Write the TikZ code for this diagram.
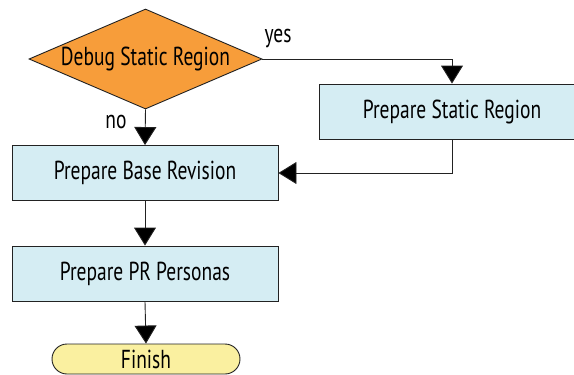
\documentclass[tikz,border=0pt]{standalone}
\usepackage{fontspec}
\setmainfont[FakeStretch=0.75]{PT Sans}
\usetikzlibrary{arrows.meta,positioning,shapes.geometric,shapes.misc}
\definecolor{FlowOrange}{HTML}{F79D3A}
\definecolor{FlowBlue}{HTML}{D5EDF3}
\definecolor{FlowYellow}{HTML}{FAF0A0}
\definecolor{FlowLine}{HTML}{222222}
\tikzset{
  stage/.style={
    draw=FlowLine,
    fill=FlowBlue,
    line width=.9pt,
    minimum width=266pt,
    minimum height=55pt,
    inner sep=0pt,
    font=\fontsize{26}{29}\selectfont
  },
  decision/.style={
    diamond,
    aspect=2.33,
    draw=FlowLine,
    fill=FlowOrange,
    line width=.9pt,
    minimum width=233pt,
    minimum height=100pt,
    inner sep=0pt,
    font=\fontsize{26}{29}\selectfont
  },
  terminal/.style={
    rounded rectangle,
    draw=FlowLine,
    fill=FlowYellow,
    line width=.9pt,
    minimum width=188pt,
    minimum height=30pt,
    inner sep=0pt,
    font=\fontsize{26}{29}\selectfont
  },
  arrow/.style={-{Triangle[length=18pt,width=22pt,fill=black]},draw=FlowLine,line width=.9pt},
  branch/.style={font=\fontsize{26}{29}\selectfont,inner sep=1pt}
}

\begin{document}
\begin{tikzpicture}[x=1pt,y=-1pt]
  \useasboundingbox (0,0) rectangle (574,375);
  \clip (0,0) rectangle (574,375);

  % Flow stages.
  \node[decision] (debug) at (145.5,59) {Debug Static Region};
  \node[stage] (static) at (452,111.5) {Prepare Static Region};
  \node[stage] (base) at (145,173) {Prepare Base Revision};
  \node[stage] (personas) at (145,273.5) {Prepare PR Personas};
  \node[terminal] (finish) at (146,359) {Finish};

  % Connectors.
  \draw[arrow] (debug.east) -| (static.north);
  \node[branch] (yes) at (278,39) {yes};
  \draw[arrow] (debug.south) -- (base.north);
  \node[branch] (no) at (116,122) {no};
  \draw[arrow] (static.south) |- (base.east);
  \draw[arrow] (base.south) -- (personas.north);
  \draw[arrow] (personas.south) -- (finish.north);
\end{tikzpicture}
\end{document}
